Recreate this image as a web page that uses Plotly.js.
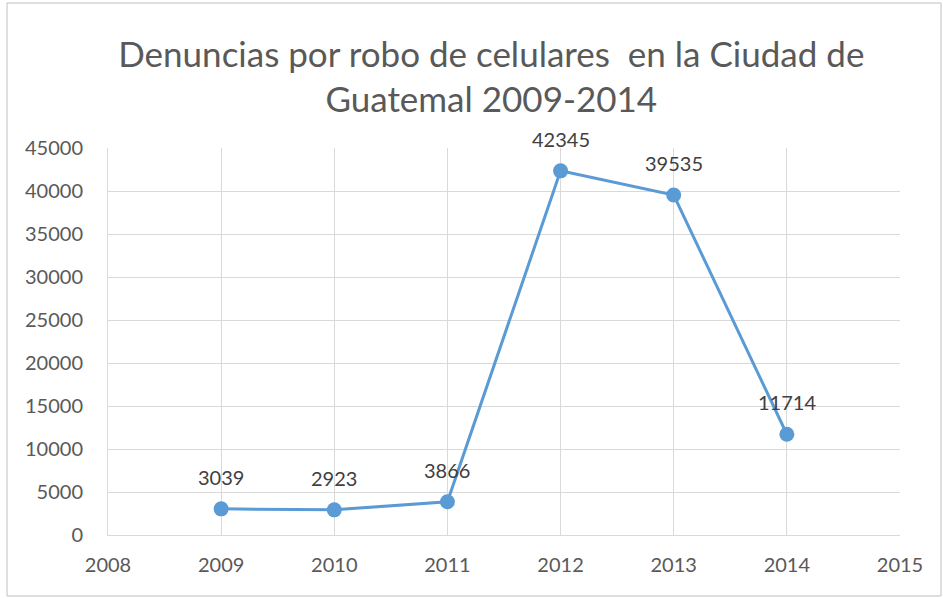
<!DOCTYPE html>
<html><head><meta charset="utf-8">
<script src="https://cdn.plot.ly/plotly-3.0.1.min.js"></script>
<style>html,body{margin:0;padding:0;background:#fff}#c{width:943px;height:598px}</style>
</head><body><div id="c"></div>
<script>
const years = [2009, 2010, 2011, 2012, 2013, 2014];
const denuncias = [3039, 2923, 3866, 42345, 39535, 11714];
const xTicks = [2008, 2009, 2010, 2011, 2012, 2013, 2014, 2015];
const yTicks = [0, 5000, 10000, 15000, 20000, 25000, 30000, 35000, 40000, 45000];
const titleText = 'Denuncias por robo de celulares  en la Ciudad de<br>Guatemal 2009-2014';

const font = 'Lato, "Open Sans", sans-serif';
const trace = {
  x: years, y: denuncias, type: 'scatter', mode: 'lines+markers',
  line: {color: '#5b9bd5', width: 3},
  marker: {color: '#5b9bd5', size: 15},
  hoverinfo: 'x+y'
};
const annotations = years.map((yr, i) => ({
  x: yr, y: denuncias[i], xref: 'x', yref: 'y', text: String(denuncias[i]),
  showarrow: false, yshift: 32, font: {family: font, size: 20, color: '#404040'}
}));
const layout = {
  width: 943, height: 598,
  margin: {l: 108, r: 43, t: 148, b: 63},
  paper_bgcolor: '#fff', plot_bgcolor: '#fff',
  title: {text: titleText, x: 0.521, xanchor: 'center', y: 0.888, yanchor: 'top',
          font: {family: font, size: 35, color: '#595959'}},
  showlegend: false,
  xaxis: {range: [2008, 2015], tickvals: xTicks, ticktext: xTicks.map(String),
          showgrid: true, gridcolor: '#d9d9d9', gridwidth: 1, zeroline: false,
          showline: true, linecolor: '#d9d9d9', linewidth: 1, mirror: false,
          ticks: '', ticklabelstandoff: 12,
          tickfont: {family: font, size: 20, color: '#595959'}},
  yaxis: {range: [0, 45000], tickvals: yTicks, ticktext: yTicks.map(String),
          showgrid: true, gridcolor: '#d9d9d9', gridwidth: 1, zeroline: false,
          showline: true, linecolor: '#d9d9d9', linewidth: 1,
          ticks: '', ticklabelstandoff: 20,
          tickfont: {family: font, size: 20, color: '#595959'}},
  annotations: annotations,
  shapes: [{type: 'rect', xref: 'paper', yref: 'paper',
            x0: -0.1275, x1: 1.0518, y0: -0.1576, y1: 1.3747,
            line: {color: '#bfbfbf', width: 1}, fillcolor: 'rgba(0,0,0,0)', layer: 'below'}]
};
Plotly.newPlot('c', [trace], layout, {displayModeBar: false, staticPlot: true});
</script></body></html>
